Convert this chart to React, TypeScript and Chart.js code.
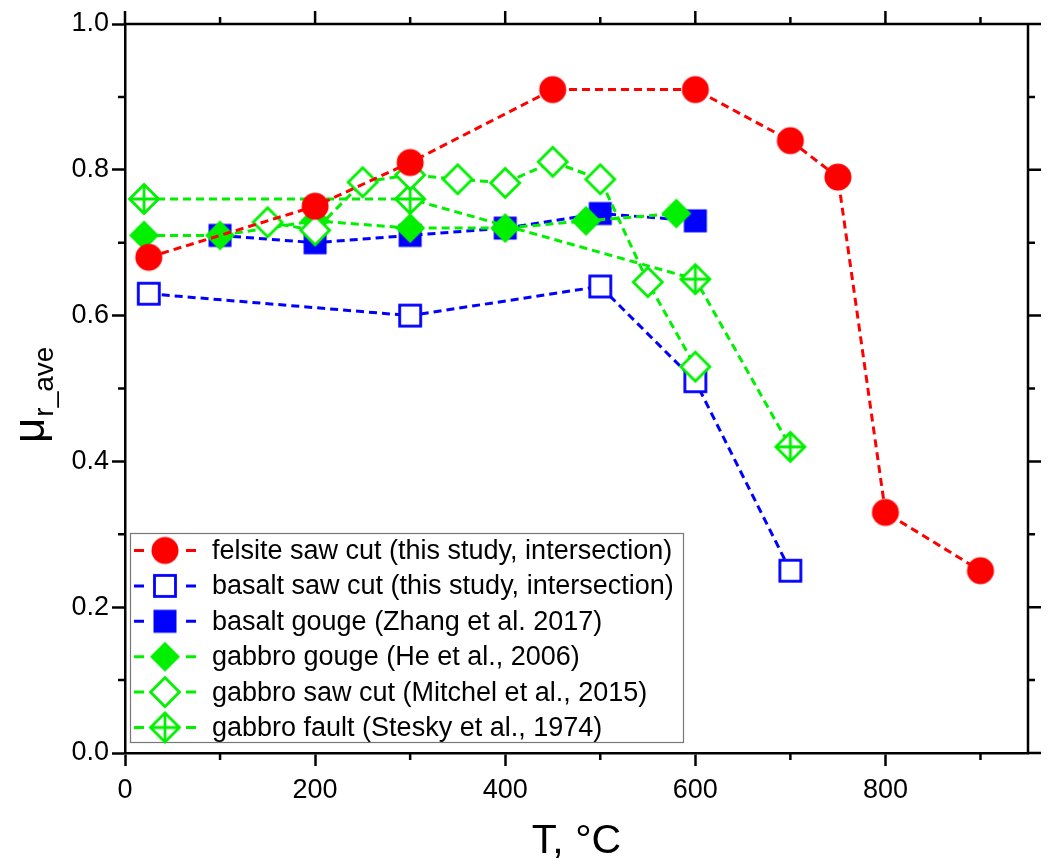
import React, { useEffect, useRef } from 'react';
import { Chart, registerables } from 'chart.js';

Chart.register(...registerables);

// ---------- data ----------
const felsiteT = [25, 200, 300, 450, 600, 700, 750, 800, 900];
const felsiteMu = [0.68, 0.75, 0.81, 0.91, 0.91, 0.84, 0.79, 0.33, 0.25];

const basaltSawT = [25, 300, 500, 600, 700];
const basaltSawMu = [0.63, 0.6, 0.64, 0.51, 0.25];

const basaltGougeT = [100, 200, 300, 400, 500, 600];
const basaltGougeMu = [0.71, 0.7, 0.71, 0.72, 0.74, 0.73];

const gabbroGougeT = [20, 100, 200, 300, 400, 485, 580];
const gabbroGougeMu = [0.71, 0.71, 0.73, 0.72, 0.72, 0.73, 0.74];

const gabbroSawT = [150, 200, 250, 300, 350, 400, 450, 500, 550, 600];
const gabbroSawMu = [0.728, 0.717, 0.783, 0.793, 0.787, 0.782, 0.811, 0.787, 0.646, 0.53];

const gabbroFaultT = [20, 300, 600, 700];
const gabbroFaultMu = [0.76, 0.76, 0.65, 0.42];

const seriesLabels = [
  'felsite saw cut (this study, intersection)',
  'basalt saw cut (this study, intersection)',
  'basalt gouge (Zhang et al. 2017)',
  'gabbro gouge (He et al., 2006)',
  'gabbro saw cut (Mitchel et al., 2015)',
  'gabbro fault (Stesky et al., 1974)',
];

const xTicks = [0, 200, 400, 600, 800];
const xMinorTicks = [100, 300, 500, 700, 900];
const yTicks = [0, 0.2, 0.4, 0.6, 0.8, 1.0];
const yMinorTicks = [0.1, 0.3, 0.5, 0.7, 0.9];

const xTitle = 'T, °C';
const yTitleMain = 'μ';
const yTitleSub = 'r_ave';

// ---------- styles ----------
const RED = '#ff0000';
const BLUE = '#0000ff';
const GREEN = '#00f000';
const FONT = "Arial, 'Liberation Sans', sans-serif";

type MarkerKind = 'circle' | 'square' | 'squareFilled' | 'diamond' | 'diamondOpen' | 'diamondCross';

function makeMarker(kind: MarkerKind, color: string): HTMLCanvasElement {
  const s = 38;
  const c = document.createElement('canvas');
  c.width = s;
  c.height = s;
  const ctx = c.getContext('2d')!;
  const m = s / 2;
  ctx.lineWidth = 2.8;
  ctx.strokeStyle = color;
  ctx.fillStyle = color;
  const diamondPath = (r: number) => {
    ctx.beginPath();
    ctx.moveTo(m, m - r);
    ctx.lineTo(m + r, m);
    ctx.lineTo(m, m + r);
    ctx.lineTo(m - r, m);
    ctx.closePath();
  };
  switch (kind) {
    case 'circle':
      ctx.beginPath();
      ctx.arc(m, m, 13.5, 0, Math.PI * 2);
      ctx.fill();
      break;
    case 'square':
      ctx.fillStyle = '#fff';
      ctx.fillRect(m - 10.5, m - 10.5, 21, 21);
      ctx.strokeRect(m - 10.5, m - 10.5, 21, 21);
      break;
    case 'squareFilled':
      ctx.fillRect(m - 11.5, m - 11.5, 23, 23);
      break;
    case 'diamond':
      diamondPath(15);
      ctx.fill();
      break;
    case 'diamondOpen':
      diamondPath(14.5);
      ctx.fillStyle = '#fff';
      ctx.fill();
      ctx.stroke();
      break;
    case 'diamondCross':
      diamondPath(14.5);
      ctx.fillStyle = '#fff';
      ctx.fill();
      ctx.stroke();
      ctx.beginPath();
      ctx.moveTo(m - 14.5, m);
      ctx.lineTo(m + 14.5, m);
      ctx.moveTo(m, m - 14.5);
      ctx.lineTo(m, m + 14.5);
      ctx.stroke();
      break;
  }
  return c;
}

const toXY = (xs: number[], ys: number[]) => xs.map((x, i) => ({ x, y: ys[i] }));

export default function App() {
  const ref = useRef<HTMLCanvasElement>(null);

  useEffect(() => {
    if (!ref.current) return;
    const markers = [
      makeMarker('circle', RED),
      makeMarker('square', BLUE),
      makeMarker('squareFilled', BLUE),
      makeMarker('diamond', GREEN),
      makeMarker('diamondOpen', GREEN),
      makeMarker('diamondCross', GREEN),
    ];
    const colors = [RED, BLUE, BLUE, GREEN, GREEN, GREEN];
    const xsArr = [felsiteT, basaltSawT, basaltGougeT, gabbroGougeT, gabbroSawT, gabbroFaultT];
    const ysArr = [felsiteMu, basaltSawMu, basaltGougeMu, gabbroGougeMu, gabbroSawMu, gabbroFaultMu];
    const drawOrder = [0, 5, 4, 2, 1, 3];

    const datasets = seriesLabels.map((label, i) => ({
      label,
      data: toXY(xsArr[i], ysArr[i]),
      borderColor: colors[i],
      backgroundColor: colors[i],
      borderWidth: 3,
      borderDash: [8, 5],
      pointStyle: markers[i] as any,
      pointRadius: 13,
      pointHoverRadius: 13,
      showLine: true,
      fill: false,
      tension: 0,
      order: drawOrder[i],
    }));

    const framePlugin = {
      id: 'frame',
      afterDraw(chart: any) {
        const { ctx, chartArea: a, scales } = chart;
        const xs = scales.x;
        const ys = scales.y;
        ctx.save();
        ctx.strokeStyle = '#000';
        ctx.lineWidth = 2.5;
        ctx.lineCap = 'butt';
        ctx.beginPath();
        ctx.moveTo(a.left - 1.25, a.top);
        ctx.lineTo(a.right + 1.25, a.top);
        ctx.moveTo(a.right, a.top);
        ctx.lineTo(a.right, a.bottom);
        xTicks.forEach((v) => {
          const px = xs.getPixelForValue(v);
          ctx.moveTo(px, a.top);
          ctx.lineTo(px, a.top - 13);
        });
        yTicks.forEach((v) => {
          const py = ys.getPixelForValue(v);
          ctx.moveTo(a.right, py);
          ctx.lineTo(a.right + 13, py);
        });
        xMinorTicks.forEach((v) => {
          const px = xs.getPixelForValue(v);
          ctx.moveTo(px, a.bottom);
          ctx.lineTo(px, a.bottom + 7);
          ctx.moveTo(px, a.top);
          ctx.lineTo(px, a.top - 7);
        });
        yMinorTicks.forEach((v) => {
          const py = ys.getPixelForValue(v);
          ctx.moveTo(a.left, py);
          ctx.lineTo(a.left - 7, py);
          ctx.moveTo(a.right, py);
          ctx.lineTo(a.right + 7, py);
        });
        ctx.stroke();

        // y axis title: mu with subscript, rotated
        ctx.fillStyle = '#000';
        ctx.translate(44, 443);
        ctx.rotate(-Math.PI / 2);
        ctx.textBaseline = 'alphabetic';
        ctx.textAlign = 'left';
        ctx.font = `44px ${FONT}`;
        ctx.fillText(yTitleMain, 0, 0);
        const w = ctx.measureText(yTitleMain).width;
        ctx.font = `28px ${FONT}`;
        ctx.fillText(yTitleSub, w + 1, 9);
        ctx.restore();
      },
    };

    const legendPlugin = {
      id: 'customLegend',
      afterDatasetsDraw(chart: any) {
        const { ctx } = chart;
        const bx = 130, by = 533, bw = 553, bh = 209;
        ctx.save();
        ctx.fillStyle = '#fff';
        ctx.fillRect(bx, by, bw, bh);
        ctx.strokeStyle = '#777';
        ctx.lineWidth = 1.2;
        ctx.strokeRect(bx + 0.5, by + 0.5, bw, bh);
        const rowH = 35.4;
        seriesLabels.forEach((label, i) => {
          const y = by + 17.5 + i * rowH;
          ctx.strokeStyle = colors[i];
          ctx.lineWidth = 3;
          ctx.beginPath();
          ctx.moveTo(134, y);
          ctx.lineTo(144, y);
          ctx.moveTo(186, y);
          ctx.lineTo(196, y);
          ctx.stroke();
          const mk = markers[i];
          ctx.drawImage(mk, 165 - mk.width / 2, y - mk.height / 2);
          ctx.fillStyle = '#000';
          ctx.font = `27px ${FONT}`;
          ctx.textBaseline = 'middle';
          ctx.textAlign = 'left';
          ctx.fillText(label, 212, y + 1);
        });
        ctx.restore();
      },
    };

    const chart = new Chart(ref.current, {
      type: 'scatter',
      data: { datasets: datasets as any },
      options: {
        animation: false,
        responsive: true,
        maintainAspectRatio: false,
        layout: { padding: { left: 0, top: 24, right: 20, bottom: 0 } },
        plugins: {
          legend: { display: false },
          tooltip: { enabled: false },
        },
        scales: {
          x: {
            type: 'linear',
            min: 0,
            max: 950,
            afterBuildTicks: (scale: any) => {
              scale.ticks = xTicks.map((value) => ({ value }));
            },
            afterFit: (scale: any) => {
              scale.height = 114;
            },
            ticks: {
              color: '#000',
              font: { family: FONT, size: 27 },
              padding: 8,
              maxRotation: 0,
              callback: (v: any) => String(v),
            },
            grid: {
              display: true,
              drawOnChartArea: false,
              drawTicks: true,
              tickLength: 13,
              tickWidth: 2.5,
              color: '#000',
            },
            border: { display: true, width: 2.5, color: '#000' },
            title: {
              display: true,
              text: xTitle,
              color: '#000',
              font: { family: FONT, size: 41 },
              padding: { top: 0, bottom: 1 },
            },
          },
          y: {
            type: 'linear',
            min: 0,
            max: 1,
            afterBuildTicks: (scale: any) => {
              scale.ticks = yTicks.map((value) => ({ value }));
            },
            afterFit: (scale: any) => {
              scale.width = 125;
            },
            ticks: {
              color: '#000',
              font: { family: FONT, size: 27 },
              padding: 3,
              callback: (v: any) => Number(v).toFixed(1),
            },
            grid: {
              display: true,
              drawOnChartArea: false,
              drawTicks: true,
              tickLength: 13,
              tickWidth: 2.5,
              color: '#000',
            },
            border: { display: true, width: 2.5, color: '#000' },
          },
        },
      },
      plugins: [framePlugin, legendPlugin],
    });

    return () => chart.destroy();
  }, []);

  return (
    <div style={{ position: 'fixed', left: 0, top: 0, width: 1048, height: 867, background: '#fff' }}>
      <canvas ref={ref} />
    </div>
  );
}
